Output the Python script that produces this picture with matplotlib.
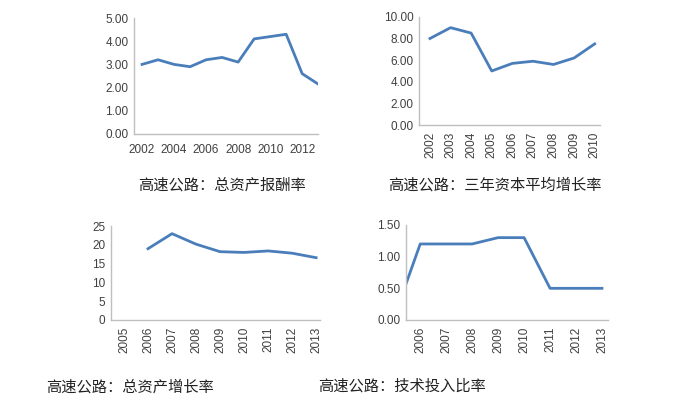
import matplotlib
matplotlib.use('Agg')
import matplotlib.pyplot as plt

# 总资产报酬率
years_roa = [2002, 2003, 2004, 2005, 2006, 2007, 2008, 2009, 2010, 2011, 2012, 2013]
roa = [3.0, 3.2, 3.0, 2.9, 3.2, 3.3, 3.1, 4.1, 4.2, 4.3, 2.6, 2.15]

# 三年资本平均增长率
years_cap = [2002, 2003, 2004, 2005, 2006, 2007, 2008, 2009, 2010]
cap_growth = [8.0, 9.0, 8.5, 5.0, 5.7, 5.9, 5.6, 6.2, 7.5]

# 总资产增长率
years_asset = [2005, 2006, 2007, 2008, 2009, 2010, 2011, 2012, 2013]
asset_growth = [None, 19.0, 23.0, 20.2, 18.2, 18.0, 18.4, 17.8, 16.6]

# 技术投入比率
years_tech = [2005, 2006, 2007, 2008, 2009, 2010, 2011, 2012, 2013]
tech_ratio = [0.05, 1.2, 1.2, 1.2, 1.3, 1.3, 0.5, 0.5, 0.5]

titles = ['高速公路：总资产报酬率', '高速公路：三年资本平均增长率',
          '高速公路：总资产增长率', '高速公路：技术投入比率']

LINE = '#4A7EBB'
AXC = '#BFBFBF'

fig = plt.figure(figsize=(6.77, 4.01), dpi=100)


def style(ax, xpad=5):
    for s in ['top', 'right']:
        ax.spines[s].set_visible(False)
    for s in ['left', 'bottom']:
        ax.spines[s].set_color(AXC)
        ax.spines[s].set_linewidth(1.0)
    ax.tick_params(length=0, labelsize=8.5, colors='#404040', pad=4)
    ax.tick_params(axis='x', pad=xpad)
    for lab in ax.get_xticklabels() + ax.get_yticklabels():
        lab.set_family('Liberation Sans')
        lab.set_fontsize(8.5)


# 左上
ax1 = fig.add_axes([0.198, 0.666, 0.272, 0.289])
ax1.plot(years_roa, roa, color=LINE, lw=2.0, clip_on=True)
ax1.set_xlim(2001.5, 2013)
ax1.set_ylim(0, 5)
ax1.set_yticks([0, 1, 2, 3, 4, 5])
ax1.set_yticklabels(['%.2f' % v for v in [0, 1, 2, 3, 4, 5]])
ax1.set_xticks(years_roa[::2])
ax1.set_xticklabels([str(y) for y in years_roa[::2]])
style(ax1, xpad=7)

# 右上
ax2 = fig.add_axes([0.619, 0.688, 0.267, 0.270])
ax2.plot(years_cap, cap_growth, color=LINE, lw=2.0)
ax2.set_xlim(2001.47, 2010.25)
ax2.set_ylim(0, 10)
ax2.set_yticks([0, 2, 4, 6, 8, 10])
ax2.set_yticklabels(['%.2f' % v for v in [0, 2, 4, 6, 8, 10]])
ax2.set_xticks(years_cap)
ax2.set_xticklabels([str(y) for y in years_cap], rotation=90)
style(ax2)

# 左下
ax3 = fig.add_axes([0.164, 0.202, 0.309, 0.234])
ax3.plot(years_asset, [float('nan') if v is None else v for v in asset_growth], color=LINE, lw=2.0)
ax3.set_xlim(2004.46, 2013.17)
ax3.set_ylim(0, 25)
ax3.set_yticks([0, 5, 10, 15, 20, 25])
ax3.set_xticks(years_asset)
ax3.set_xticklabels([str(y) for y in years_asset], rotation=90)
style(ax3)

# 右下
ax4 = fig.add_axes([0.600, 0.202, 0.298, 0.237])
ax4.plot(years_tech, tech_ratio, color=LINE, lw=2.0)
ax4.set_xlim(2005.46, 2013.23)
ax4.set_ylim(0, 1.5)
ax4.set_yticks([0, 0.5, 1.0, 1.5])
ax4.set_yticklabels(['%.2f' % v for v in [0, 0.5, 1.0, 1.5]])
ax4.set_xticks(years_tech[1:])
ax4.set_xticklabels([str(y) for y in years_tech[1:]], rotation=90)
style(ax4)

cap_font = dict(fontsize=11, family=['Noto Sans CJK SC', 'DejaVu Sans'], color='#222222', va='center')
fig.text(138 / 677, 1 - 185 / 401, titles[0], **cap_font)
fig.text(388 / 677, 1 - 185 / 401, titles[1], **cap_font)
fig.text(46 / 677, 1 - 387 / 401, titles[2], **cap_font)
fig.text(318 / 677, 1 - 386 / 401, titles[3], **cap_font)

fig.savefig('out.png', dpi=100, facecolor='white')
